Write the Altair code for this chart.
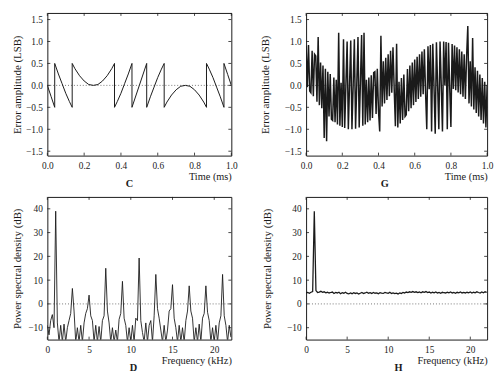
import altair as alt
import pandas as pd

FONT = "Liberation Serif"
INK = "#1a1a1a"

# ---------------- Panel C: quantisation error, no dither ----------------
c_time = [0.0, 0.02, 0.04, 0.04, 0.06, 0.08, 0.10, 0.12, 0.135, 0.135,
          0.15, 0.175, 0.20, 0.225, 0.25, 0.275, 0.30, 0.325, 0.35, 0.365,
          0.365, 0.38, 0.40, 0.42, 0.44, 0.46, 0.46, 0.50, 0.54, 0.54,
          0.56, 0.58, 0.60, 0.62, 0.635, 0.635, 0.65, 0.675, 0.70, 0.725,
          0.75, 0.775, 0.80, 0.825, 0.85, 0.865, 0.865, 0.88, 0.90, 0.92,
          0.94, 0.96, 0.96, 0.98, 1.0]
c_error = [0.0, -0.25, -0.5, 0.5, 0.26, 0.04, -0.18, -0.37, -0.5, 0.5,
           0.38, 0.22, 0.10, 0.02, 0.0, 0.02, 0.10, 0.22, 0.38, 0.5,
           -0.5, -0.37, -0.18, 0.04, 0.26, 0.5, -0.5, 0.0, 0.5, -0.5,
           -0.26, -0.04, 0.18, 0.37, 0.5, -0.5, -0.38, -0.22, -0.10, -0.02,
           0.0, -0.02, -0.10, -0.22, -0.38, -0.5, 0.5, 0.37, 0.18, -0.04,
           -0.26, -0.5, 0.5, 0.25, 0.0]

# ---------------- Panel G: quantisation error, with dither ----------------
g_step_ms = 1.0 / 150
g_error = [0.90, -0.04, 0.92, -0.13, -0.17, 0.79, -0.25, 0.71, 0.67, -0.37,
           1.10, -0.45, 0.52, -0.52, 0.45, -1.20, 0.38, -1.27, 0.31, -0.71,
           0.26, -0.77, -0.80, 0.18, -0.84, 0.13, -0.89, 1.20, -0.92, 0.06,
           -0.95, 1.05, -0.97, 0.02, 1.00, -1.00, 0.00, 1.02, -1.00, 0.00,
           1.05, -0.99, 0.02, 1.10, -0.96, 0.05, 1.15, -0.92, 1.20, -0.89,
           0.13, -0.84, 0.18, -0.80, 0.23, -0.74, 0.29, 0.31, -0.65, 0.38,
           -0.59, -1.05, 1.13, -0.48, 0.55, -0.41, 0.63, -0.33, 0.71, -0.25,
           0.79, -0.17, 0.87, -0.08, -0.93, 0.95, -0.96, 0.08, -0.87, 0.17,
           -0.79, 0.25, -0.71, -0.67, 0.37, -0.59, 0.45, -0.52, 0.52, -0.45,
           0.59, -0.38, 0.65, -0.31, 0.71, -0.26, 0.77, -0.20, 0.82, -0.16,
           -1.00, 0.89, -0.09, 0.92, -1.05, 0.95, -0.04, -1.10, 0.98, -0.01,
           -1.00, 1.00, 0.00, -1.05, 1.00, 0.00, 0.99, -1.00, 0.97, -0.04,
           -0.95, 0.94, -0.08, 0.91, -0.11, 0.87, -0.16, 0.82, -0.20, 0.77,
           -0.26, 0.71, -0.31, 0.65, 1.35, -0.41, 0.55, -0.48, 1.08, -0.55,
           0.41, -0.63, 0.33, -0.71, 0.25, -0.79, 0.17, -0.87, 0.08, -0.96,
           0.00]

# ---------------- Panels D and H: power spectral density (dB) ----------------
psd_step_khz = 0.2
d_psd = [-9, -13, -7, -4.5, -10,
         39, -8, -16, -9, -16,
         -8.5, -16, -10, -7, -4,
         6.5, -3, -16, -10, -16,
         -9, -16, -8, -4, -2,
         3.7, -5, -7, -16, -9,
         -16, -9.5, -16, -7, -5,
         15, -3, -8, -16, -10,
         -16, -11, -16, -6.5, -4,
         9.5, -6, -9, -16, -10,
         -16, -9, -16, -6, -7,
         19.3, -7, -12, -16, -8,
         -16, -9, -7, -16, -5,
         12.4, -2, -6, -11, -16,
         -9, -16, -11, -3, -2,
         8.1, -6, -10, -16, -9,
         -16, -10, -16, -7, -3,
         7.6, -3, -6, -16, -10,
         -16, -8.5, -16, -6, -4,
         7.6, -3.5, -7, -16, -10,
         -16, -9, -16, -8, -5,
         12.4, -5, -9, -16, -9,
         -14]
h_psd = [4.6, 4.8, 4.5, 4.9, 5.2,
         39, 5.6, 4.8, 5.0, 5.3,
         4.9, 5.1, 4.7, 4.9, 4.6,
         4.8, 5.0, 4.4, 4.8, 4.6,
         4.9, 4.3, 4.7, 4.5, 4.9,
         4.4, 4.2, 4.6, 4.3, 4.7,
         4.4, 4.6, 4.2, 4.5, 4.8,
         4.4, 4.6, 4.9, 4.5, 4.7,
         4.4, 4.8, 4.5, 4.6, 4.3,
         4.7, 4.5, 4.4, 4.8, 4.6,
         4.5, 4.9, 4.4, 4.6, 4.3,
         4.5, 4.2, 4.6, 4.4, 4.8,
         4.6, 5.0, 4.8, 5.1, 4.9,
         5.2, 4.9, 5.1, 4.8, 5.0,
         4.7, 5.1, 4.9, 5.2, 4.8,
         5.0, 4.6, 4.9, 4.7, 5.0,
         4.6, 4.8, 4.5, 4.9, 4.7,
         4.6, 4.9, 4.7, 5.0, 4.6,
         4.8, 4.5, 4.9, 4.7, 5.0,
         4.6, 4.8, 4.6, 4.9, 4.7,
         5.0, 4.6, 4.9, 4.7, 5.1,
         4.8, 4.6, 5.0, 4.7, 5.1,
         4.9]

time_ticks = [0.0, 0.2, 0.4, 0.6, 0.8, 1.0]
err_ticks = [-1.5, -1.0, -0.5, 0.0, 0.5, 1.0, 1.5]
freq_ticks = [0, 5, 10, 15, 20]
psd_ticks = [-10, 0, 10, 20, 30, 40]

err_domain = [-1.6, 1.65]
time_domain = [0.0, 1.0]
psd_domain = [-15, 45]
freq_domain = [0.0, 22.05]

df_c = pd.DataFrame({"x": c_time, "y": c_error, "idx": range(len(c_time))})
df_g = pd.DataFrame({"x": [i * g_step_ms for i in range(len(g_error))],
                     "y": g_error, "idx": range(len(g_error))})
df_d = pd.DataFrame({"x": [i * psd_step_khz for i in range(len(d_psd))],
                     "y": d_psd, "idx": range(len(d_psd))})
df_h = pd.DataFrame({"x": [i * psd_step_khz for i in range(len(h_psd))],
                     "y": h_psd, "idx": range(len(h_psd))})


def panel(df, xdom, ydom, xticks, yticks, xfmt, yfmt, xtitle, ytitle,
          letter, letter_dx, w, h, ytp, stroke_w, tick_len=3):
    xs = alt.Scale(domain=xdom, nice=False, zero=False)
    ys = alt.Scale(domain=ydom, nice=False, zero=False)
    common = dict(domain=False, ticks=False, grid=False, labelFont=FONT,
                  titleFont=FONT, labelColor=INK, titleColor=INK,
                  labelFontSize=9.5, titleFontWeight="normal",
                  labelOverlap=False, labelFlush=False)
    xaxis = alt.Axis(values=xticks, format=xfmt, title=xtitle,
                     titleAnchor="end", labelPadding=5, titlePadding=2,
                     titleFontSize=10.5, **common)
    yaxis = alt.Axis(values=yticks, format=yfmt, title=ytitle,
                     labelPadding=5, titlePadding=ytp, titleFontSize=11,
                     **common)
    # every layer carries the same axis definition so that they merge
    X = lambda f: alt.X(f, scale=xs, axis=xaxis)
    Y = lambda f: alt.Y(f, scale=ys, axis=yaxis)

    zero = alt.Chart(pd.DataFrame({"z": [0.0]})).mark_rule(
        color="#555", strokeDash=[1, 2], strokeWidth=0.8
    ).encode(y=Y("z:Q"))
    line = alt.Chart(df).mark_line(
        color=INK, strokeWidth=stroke_w, clip=True
    ).encode(x=X("x:Q"), y=Y("y:Q"), order="idx:Q")
    xt = pd.DataFrame({"v": xticks})
    yt = pd.DataFrame({"v": yticks})
    tb = alt.Chart(xt).mark_rule(color=INK, strokeWidth=0.8).encode(
        x=X("v:Q"), y=alt.value(h), y2=alt.value(h - tick_len))
    tt = alt.Chart(xt).mark_rule(color=INK, strokeWidth=0.8).encode(
        x=X("v:Q"), y=alt.value(0), y2=alt.value(tick_len))
    tl = alt.Chart(yt).mark_rule(color=INK, strokeWidth=0.8).encode(
        y=Y("v:Q"), x=alt.value(0), x2=alt.value(tick_len))
    tr = alt.Chart(yt).mark_rule(color=INK, strokeWidth=0.8).encode(
        y=Y("v:Q"), x=alt.value(w - tick_len), x2=alt.value(w))
    return alt.layer(zero, line, tb, tt, tl, tr).properties(
        width=w, height=h,
        title=alt.TitleParams(text=letter, orient="bottom", anchor="middle",
                              dx=letter_dx, offset=-3, font=FONT,
                              fontSize=10.5, fontWeight="bold", color=INK),
    )


pc = panel(df_c, time_domain, err_domain, time_ticks, err_ticks, ".1f", ".1f",
           "Time (ms)", "Error amplitude (LSB)", "C", -10, 187, 145, 3, 1.0)
pg = panel(df_g, time_domain, err_domain, time_ticks, err_ticks, ".1f", ".1f",
           "Time (ms)", "Error amplitude (LSB)", "G", -12, 184, 145, 14, 1.5)
pd_ = panel(df_d, freq_domain, psd_domain, freq_ticks, psd_ticks, "d", "d",
            "Frequency (kHz)", "Power spectral density (dB)", "D", -6, 187, 145, 5, 0.9)
ph = panel(df_h, freq_domain, psd_domain, freq_ticks, psd_ticks, "d", "d",
           "Frequency (kHz)", "Power spectral density (dB)", "H", 2, 184, 145, 14, 1.3)

chart = alt.concat(
    pc, pg, pd_, ph, columns=2, bounds="flush",
    spacing={"row": 42, "column": 76},
).properties(
    padding={"left": 3, "top": 1, "right": 0, "bottom": 0},
).configure(
    background="white",
    view=alt.ViewConfig(stroke=INK, strokeWidth=1),
)

chart.save("out.html", embed_options={"renderer": "svg", "actions": False})
